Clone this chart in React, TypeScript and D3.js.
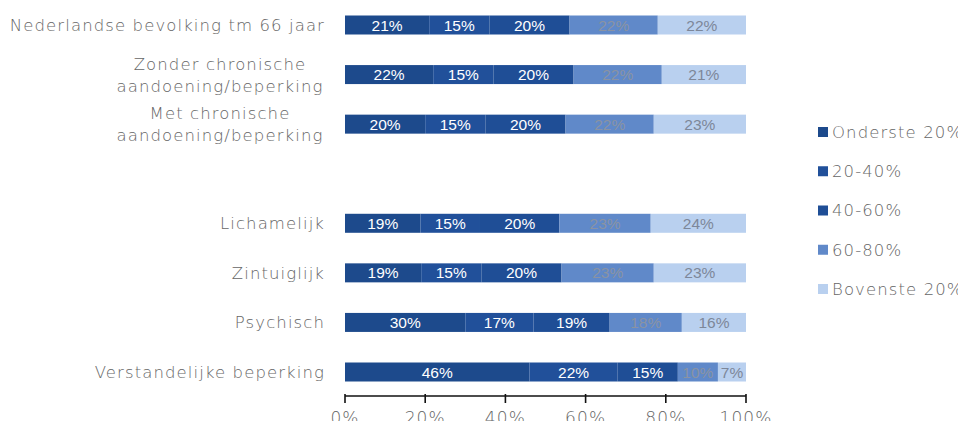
import { useMemo } from "react";
import * as d3 from "d3";

const categories = [
    "Nederlandse bevolking tm 66 jaar",
    "Zonder chronische|aandoening/beperking",
    "Met chronische|aandoening/beperking",
    "",
    "Lichamelijk",
    "Zintuiglijk",
    "Psychisch",
    "Verstandelijke beperking"
];
const series = ["Onderste 20%", "20-40%", "40-60%", "60-80%", "Bovenste 20%"];
const onderste = [21, 22, 20, null, 19, 19, 30, 46];
const q2040 = [15, 15, 15, null, 15, 15, 17, 22];
const q4060 = [20, 20, 20, null, 20, 20, 19, 15];
const q6080 = [22, 22, 22, null, 23, 23, 18, 10];
const bovenste = [22, 21, 23, null, 24, 23, 16, 7];
const ticks = [0, 20, 40, 60, 80, 100];

const colors = ["#1d4a8c", "#21509a", "#1f4e96", "#6089c9", "#b9d0ef"];
const textColors = ["#ffffff", "#ffffff", "#ffffff", "#8a93a3", "#7d8799"];

const WIDTH = 966;
const HEIGHT = 429;
const FONT = "'DejaVu Sans', Verdana, sans-serif";
const LABEL_COLOR = "#666";
const LABEL_SIZE = 16.5;
const SPACING = 1.1;

export default function App() {
    const values = [onderste, q2040, q4060, q6080, bovenste];

    const x = useMemo(() => d3.scaleLinear().domain([0, 100]).range([345, 746]), []);
    const y = useMemo(
        () => d3.scalePoint<number>().domain(d3.range(categories.length)).range([25, 372]),
        []
    );

    const rows = useMemo(() => {
        return categories.map((c, i) => {
            if (!c) return null;
            const vals = values.map(s => s[i] as number);
            const total = d3.sum(vals);
            let acc = 0;
            const segs = vals.map((v, k) => {
                const x0 = acc;
                acc += (v / total) * 100;
                return { k, v, x0, x1: acc };
            });
            return { c, i, segs };
        });
    }, []);

    const barH = 19;
    const legendY = d3.scalePoint<number>().domain(d3.range(series.length)).range([132, 289]);

    return (
        <div style={{ margin: -8 }}>
            <svg width={WIDTH} height={HEIGHT} style={{ display: "block", background: "#fff" }}>
                {rows.map(r => {
                    if (!r) return null;
                    const cy = y(r.i) as number;
                    const lines = r.c.split("|");
                    return (
                        <g key={r.i}>
                            {r.segs.map(s => (
                                <g key={s.k}>
                                    <rect
                                        x={x(s.x0)}
                                        y={cy - barH / 2}
                                        width={x(s.x1) - x(s.x0)}
                                        height={barH}
                                        fill={colors[s.k]}
                                    />
                                    <text
                                        x={(x(s.x0) + x(s.x1)) / 2}
                                        y={cy}
                                        dy="0.36em"
                                        textAnchor="middle"
                                        fontFamily="'Liberation Sans', Arial, sans-serif"
                                        fontSize={15.5}
                                        fill={textColors[s.k]}
                                    >
                                        {s.v}%
                                    </text>
                                </g>
                            ))}
                            {lines.length === 1 ? (
                                <text
                                    x={325}
                                    y={cy}
                                    dy="0.36em"
                                    textAnchor="end"
                                    fontFamily={FONT}
                                    fontSize={LABEL_SIZE}
                                    fontWeight={200}
                                    letterSpacing={SPACING}
                                    fill={LABEL_COLOR}
                                >
                                    {lines[0]}
                                </text>
                            ) : (
                                <text
                                    textAnchor="middle"
                                    fontFamily={FONT}
                                    fontSize={LABEL_SIZE}
                                    fontWeight={200}
                                    letterSpacing={SPACING}
                                    fill={LABEL_COLOR}
                                >
                                    {lines.map((l, j) => (
                                        <tspan key={j} x={220} y={cy + (j - 0.5) * 22} dy="0.36em">
                                            {l}
                                        </tspan>
                                    ))}
                                </text>
                            )}
                        </g>
                    );
                })}

                <g>
                    <line x1={x(0)} x2={x(100)} y1={396} y2={396} stroke="#111" strokeWidth={1.6} />
                    {ticks.map(t => (
                        <g key={t}>
                            <line x1={x(t)} x2={x(t)} y1={394} y2={403} stroke="#111" strokeWidth={1.6} />
                            <text
                                x={x(t)}
                                y={418}
                                dy="0.36em"
                                textAnchor="middle"
                                fontFamily={FONT}
                                fontSize={17}
                                fontWeight={200}
                                letterSpacing={SPACING}
                                fill={LABEL_COLOR}
                            >
                                {t}%
                            </text>
                        </g>
                    ))}
                </g>

                <g>
                    {series.map((s, k) => {
                        const ly = legendY(k) as number;
                        return (
                            <g key={s}>
                                <rect x={818} y={ly - 5} width={10} height={10} fill={colors[k]} />
                                <text
                                    x={832}
                                    y={ly}
                                    dy="0.36em"
                                    fontFamily={FONT}
                                    fontSize={LABEL_SIZE}
                                    fontWeight={200}
                                    letterSpacing={SPACING}
                                    fill={LABEL_COLOR}
                                >
                                    {s}
                                </text>
                            </g>
                        );
                    })}
                </g>
            </svg>
        </div>
    );
}
